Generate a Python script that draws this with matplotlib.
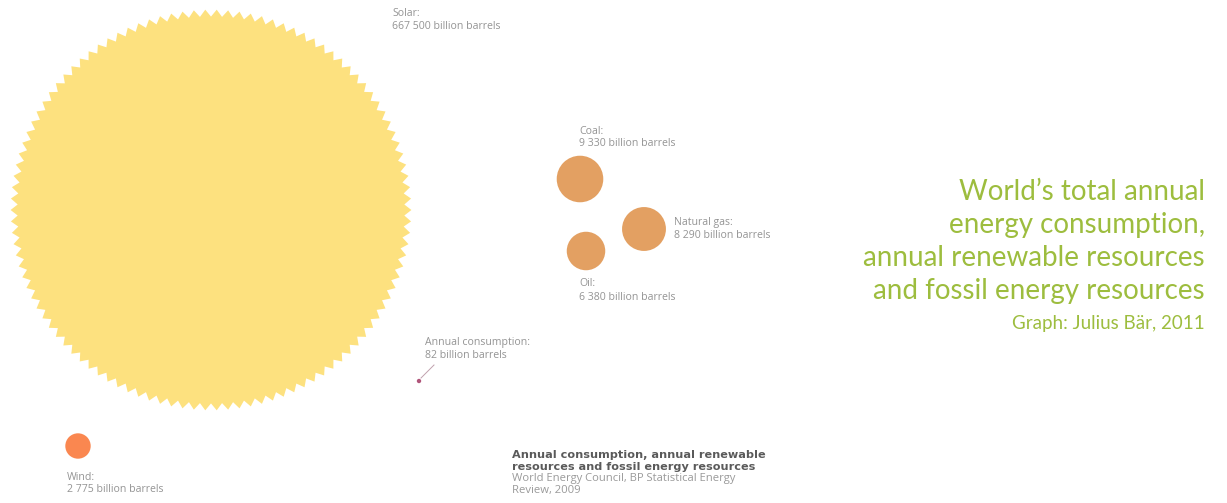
import numpy as np
import matplotlib
matplotlib.use("Agg")
import matplotlib.pyplot as plt
from matplotlib.patches import Circle, Polygon

# ---- data (billion barrels) ----
names = ["Solar", "Coal", "Natural gas", "Oil", "Wind", "Annual consumption"]
values = [667500, 9330, 8290, 6380, 2775, 82]
value_labels = ["667 500 billion barrels", "9 330 billion barrels", "8 290 billion barrels",
                "6 380 billion barrels", "2 775 billion barrels", "82 billion barrels"]
title_lines = ["World\u2019s total annual", "energy consumption,",
               "annual renewable resources", "and fossil energy resources"]
credit = "Graph: Julius B\u00e4r, 2011"
source_title = ["Annual consumption, annual renewable", "resources and fossil energy resources"]
source_text = ["World Energy Council, BP Statistical Energy", "Review, 2009"]

# ---- layout / style (pixel coordinates) ----
W, H = 1227, 503
scale = 0.241  # px radius per sqrt(billion barrels)
centers = {"Solar": (211, 210), "Coal": (580, 179), "Natural gas": (644, 229),
           "Oil": (586, 251), "Wind": (78, 446), "Annual consumption": (419, 381)}
colors = {"Solar": "#fde17f", "Coal": "#e3a062", "Natural gas": "#e3a062",
          "Oil": "#e3a062", "Wind": "#fa8750", "Annual consumption": "#b0557a"}
label_pos = {"Solar": (392, 13), "Coal": (579, 131), "Natural gas": (674, 223),
             "Oil": (579, 284), "Wind": (67, 477), "Annual consumption": (425, 342)}

fig = plt.figure(figsize=(W / 100, H / 100), dpi=100)
ax = fig.add_axes([0, 0, 1, 1])
ax.set_xlim(0, W)
ax.set_ylim(H, 0)
ax.set_aspect("equal")
ax.axis("off")

label_font = dict(family=["Open Sans", "DejaVu Sans"], fontsize=7.6, color="#949494")

for name, val, lab in zip(names, values, value_labels):
    cx, cy = centers[name]
    r = scale * np.sqrt(val)
    if name == "Solar":
        n_teeth = 110
        t = np.linspace(0, 2 * np.pi, 2 * n_teeth, endpoint=False)
        rr = np.where(np.arange(2 * n_teeth) % 2 == 0, r + 3.5, r - 3.5)
        pts = np.column_stack([cx + rr * np.cos(t), cy + rr * np.sin(t)])
        ax.add_patch(Polygon(pts, closed=True, facecolor=colors[name], edgecolor="none"))
    elif name == "Annual consumption":
        ax.add_patch(Circle((cx, cy), max(r, 1.6), facecolor=colors[name], edgecolor="none"))
        ax.plot([cx + 2, cx + 15], [cy - 3, cy - 16], color="#c0a0ad", lw=0.7)
    else:
        ax.add_patch(Circle((cx, cy), r, facecolor=colors[name], edgecolor="none"))
    lx, ly = label_pos[name]
    ax.text(lx, ly, name + ":", va="center", ha="left", **label_font)
    ax.text(lx, ly + 13, lab, va="center", ha="left", **label_font)

# title block
green = "#9dbd3e"
tfont = ["Lato", "Open Sans", "DejaVu Sans"]
for i, line in enumerate(title_lines):
    ax.text(1205, 192 + 33 * i, line, ha="right", va="center", fontsize=20,
            color=green, family=tfont)
ax.text(1205, 323, credit, ha="right", va="center", fontsize=13.5, color=green, family=tfont)

# source block
for i, line in enumerate(source_title):
    ax.text(512, 455 + 11.8 * i, line, ha="left", va="center", fontsize=8.1,
            fontweight="bold", color="#5a5a5a", family=["DejaVu Sans"])
for i, line in enumerate(source_text):
    ax.text(512, 479 + 11.5 * i, line, ha="left", va="center", fontsize=8.1,
            color="#9a9a9a", family=["Open Sans", "DejaVu Sans"])

fig.savefig("out.png", dpi=100, facecolor="white")
